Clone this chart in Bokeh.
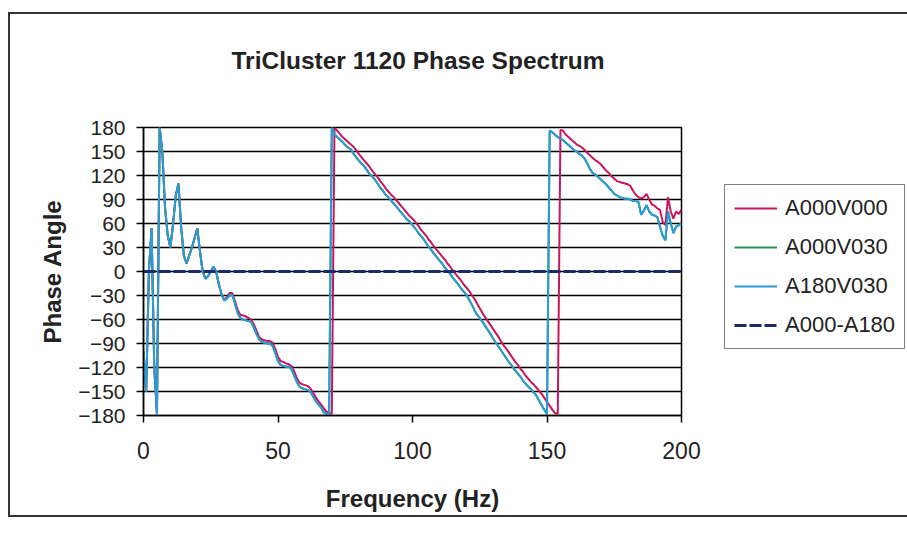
from bokeh.plotting import figure
from bokeh.models import FixedTicker, Legend, LegendItem, Range1d, Title
from bokeh.embed import file_html
from bokeh.resources import INLINE

# ---------------- data ----------------
freq = list(range(0, 201))  # Hz, 1 Hz steps

a000v000 = [
    -100, -150, 0, 54, -120, -178, 180, 150, 80, 45,
    30, 60, 95, 110, 55, 20, 10, 20, 30, 42,
    54, 25, 0, -9, -6, 0, 6, 0, -16, -28,
    -36, -32, -27, -27, -37, -48, -54, -55, -56, -58,
    -60, -66, -74, -82, -85, -86, -87, -87, -89, -97,
    -107, -112, -113, -115, -116, -118, -125, -133, -139, -141,
    -142, -143, -146, -151, -157, -162, -166, -171, -175, -177,
    -178, 180, 176, 172, 168, 165, 162, 159, 156, 152,
    147, 143, 139, 135, 131, 126, 122, 118, 113, 109,
    104, 100, 96, 93, 89, 85, 81, 77, 73, 69,
    66, 62, 58, 53, 49, 45, 40, 36, 31, 27,
    23, 19, 15, 10, 6, 1, -3, -7, -11, -16,
    -20, -24, -29, -34, -40, -46, -52, -57, -62, -67,
    -72, -77, -82, -88, -93, -97, -102, -107, -112, -116,
    -121, -125, -130, -134, -138, -141, -145, -149, -153, -158,
    -163, -168, -173, -177, -178, 177, 176, 171, 168, 165,
    162, 159, 157, 155, 152, 148, 145, 142, 139, 137,
    134, 130, 126, 123, 119, 116, 113, 112, 111, 110,
    109, 107, 101, 96, 93, 91, 93, 97, 90, 84,
    82, 79, 77, 62, 58, 93, 75, 66, 75, 72,
    77,
]

a180v030 = [
    -100, -150, 0, 54, -120, -178, 180, 150, 80, 45,
    30, 60, 95, 110, 55, 20, 10, 20, 30, 42,
    54, 25, 0, -9, -6, 0, 6, 0, -16, -28,
    -36, -34, -30, -29, -40, -52, -58, -60, -61, -62,
    -63, -70, -78, -85, -88, -89, -90, -90, -93, -102,
    -112, -117, -118, -119, -119, -122, -130, -138, -144, -146,
    -147, -148, -150, -156, -162, -166, -170, -176, -178, -178,
    180, 172, 168, 165, 162, 158, 155, 153, 148, 143,
    139, 135, 132, 127, 122, 119, 115, 110, 105, 101,
    96, 93, 89, 85, 81, 77, 73, 69, 65, 62,
    58, 54, 49, 45, 41, 36, 31, 27, 22, 18,
    14, 10, 5, 1, -3, -8, -12, -16, -21, -25,
    -29, -35, -41, -48, -54, -58, -63, -68, -73, -78,
    -84, -89, -94, -99, -104, -109, -114, -118, -123, -127,
    -131, -136, -140, -144, -147, -151, -155, -161, -167, -173,
    -178, 176, 174, 171, 168, 166, 164, 161, 158, 155,
    152, 150, 147, 145, 141, 135, 128, 123, 121, 118,
    115, 112, 109, 105, 101, 97, 95, 93, 92, 91,
    91, 90, 88, 88, 87, 71, 76, 83, 75, 71,
    70, 68, 56, 45, 39, 75, 60, 48, 56, 58,
    60,
]

# A000V030 coincides with A180V030 and is hidden beneath it in the reference
a000v030 = list(a180v030)

# A000-A180 difference stays on zero
diff_freq = [0, 200]
a000_a180 = [0, 0]

x_ticks = [0, 50, 100, 150, 200]
y_ticks = [-180, -150, -120, -90, -60, -30, 0, 30, 60, 90, 120, 150, 180]

series_names = ["A000V000", "A000V030", "A180V030", "A000-A180"]
series_colors = ["#C8165E", "#2A8F5A", "#2B9AD6", "#1C2A68"]

FONT = "Liberation Sans"

# ---------------- figure ----------------
p = figure(
    frame_width=538, frame_height=288,
    x_range=Range1d(0, 200), y_range=Range1d(-180, 180),
    output_backend="svg", toolbar_location=None,
    min_border_left=135, min_border_right=200,
    min_border_top=115, min_border_bottom=102,
    background_fill_color="white", border_fill_color=None,
)
p.margin = (12, 0, 0, 8)
p.styles = {"box-shadow": "inset 2px 2px 0 0 #333, inset 0 -2px 0 0 #333"}

p.title.text = "TriCluster 1120 Phase Spectrum"
p.title.align = "left"
p.title.offset = 88
p.title.text_font = FONT
p.title.text_font_size = "24.5px"
p.title.text_font_style = "bold"
p.title.text_color = "#222222"
p.title.standoff = 0

# near-invisible spacer title between the frame and the main title
spacer = Title(text="\u00a0", text_font_size="1px", standoff=51)
p.add_layout(spacer, "above")

p.outline_line_color = "black"
p.outline_line_width = 1.5

p.xgrid.visible = False
p.ygrid.ticker = FixedTicker(ticks=y_ticks)
p.ygrid.grid_line_color = "black"
p.ygrid.grid_line_width = 1.5

p.xaxis.ticker = FixedTicker(ticks=x_ticks)
p.yaxis.ticker = FixedTicker(ticks=y_ticks)
for ax in (p.xaxis[0], p.yaxis[0]):
    ax.axis_line_color = "black"
    ax.axis_line_width = 1.5
    ax.major_tick_line_color = "black"
    ax.major_tick_line_width = 1.5
    ax.major_tick_in = 0
    ax.major_tick_out = 7
    ax.minor_tick_line_color = None
    ax.major_label_text_font = FONT
    ax.major_label_text_color = "#222222"
    ax.axis_label_text_font = FONT
    ax.axis_label_text_font_style = "bold"
    ax.axis_label_text_font_size = "24px"
    ax.axis_label_text_color = "#222222"

p.xaxis.axis_label = "Frequency (Hz)"
p.xaxis.major_label_text_font_size = "23px"
p.xaxis.major_label_standoff = 19
p.xaxis.axis_label_standoff = 23
p.yaxis.axis_label = "Phase Angle"
p.yaxis.major_label_text_font_size = "21px"
p.yaxis.major_label_standoff = 11
p.yaxis.axis_label_standoff = 9

r1 = p.line(freq, a000v000, line_color=series_colors[0], line_width=2)
r2 = p.line(freq, a000v030, line_color=series_colors[1], line_width=2)
r3 = p.line(freq, a180v030, line_color=series_colors[2], line_width=2)
r4 = p.line(diff_freq, a000_a180, line_color=series_colors[3], line_width=3, line_dash="12 3")

legend = Legend(
    items=[LegendItem(label=n, renderers=[r]) for n, r in zip(series_names, [r1, r2, r3, r4])],
    location=(43, 66),
    orientation="vertical",
    label_text_font=FONT,
    label_text_font_size="22px",
    label_text_color="#222222",
    glyph_width=43, glyph_height=28, label_height=28,
    label_standoff=8, spacing=11, padding=9, margin=0,
    border_line_color="black", border_line_width=1.5,
    background_fill_color="white", background_fill_alpha=1.0,
)
p.add_layout(legend, "right")

open("out.html", "w").write(file_html(p, INLINE))
